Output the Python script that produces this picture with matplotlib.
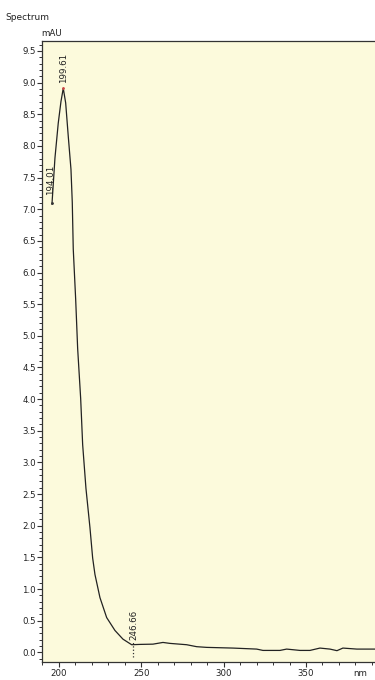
import matplotlib
matplotlib.use("Agg")
import matplotlib.pyplot as plt
from matplotlib.ticker import MultipleLocator

# Spectrum data (wavelength nm, absorbance mAU)
wavelength = [195.75, 197.57, 199.57, 201.21, 202.61, 204.07, 205.65, 207.29, 208.08,
              208.68, 210.14, 211.35, 213.18, 214.39, 216.39, 218.82, 220.46, 221.86,
              224.89, 228.96, 234.0, 238.86, 244.14, 249.18, 257.07, 263.14, 267.40,
              277.53, 283.61, 289.68, 305.65, 320.04, 323.86, 334.18, 338.25, 346.33,
              352.4, 358.47, 364.54, 368.8, 372.4, 380.9, 391.9]
absorbance = [7.08, 7.81, 8.36, 8.70, 8.91, 8.68, 8.15, 7.63, 7.11,
              6.37, 5.58, 4.80, 4.01, 3.28, 2.59, 1.97, 1.49, 1.23,
              0.865, 0.55, 0.346, 0.209, 0.121, 0.126, 0.130, 0.157, 0.142,
              0.121, 0.090, 0.079, 0.068, 0.052, 0.031, 0.031, 0.052, 0.031,
              0.031, 0.068, 0.052, 0.027, 0.068, 0.052, 0.052]

peak_labels = ["194.01", "199.61", "246.66"]
peak_x = [195.75, 202.61, 245.2]
peak_y = [7.08, 8.91, 0.12]

x_ticks = [200, 250, 300, 350]
y_ticks = [0.0, 0.5, 1.0, 1.5, 2.0, 2.5, 3.0, 3.5, 4.0, 4.5, 5.0, 5.5, 6.0, 6.5,
           7.0, 7.5, 8.0, 8.5, 9.0, 9.5]

fig = plt.figure(figsize=(3.75, 6.8), dpi=100)
fig.patch.set_facecolor("white")
ax = fig.add_axes([0.112, 0.026, 0.888, 0.914])
ax.set_facecolor("#fcfadc")

ax.plot(wavelength, absorbance, color="#222222", lw=0.9)

ax.set_xlim(189.7, 391.9)
ax.set_ylim(-0.157, 9.66)
ax.set_xticks(x_ticks)
ax.set_yticks(y_ticks)
ax.set_yticklabels([f"{v:.1f}" for v in y_ticks])
ax.xaxis.set_minor_locator(MultipleLocator(10))
ax.yaxis.set_minor_locator(MultipleLocator(0.1))
ax.tick_params(axis="both", which="major", labelsize=6.2, length=3.5, width=0.8,
               color="#333333", pad=1, labelcolor="#222222")
ax.tick_params(axis="both", which="minor", length=2, width=0.7, color="#333333")
for s in ["left", "bottom", "top"]:
    ax.spines[s].set_color("#333333")
    ax.spines[s].set_linewidth(0.9)
ax.spines["right"].set_visible(False)

# peak annotations
ax.plot([peak_x[0]], [peak_y[0] + 0.02], marker=".", ms=2, color="#333333")
ax.text(peak_x[0] - 0.6, peak_y[0] + 0.15, peak_labels[0], rotation=90,
        fontsize=6.3, ha="center", va="bottom", color="#222222")
ax.plot([peak_x[1]], [peak_y[1]], marker=".", ms=2, color="#cc4444")
ax.text(peak_x[1] + 0.2, peak_y[1] + 0.08, peak_labels[1], rotation=90,
        fontsize=6.3, ha="center", va="bottom", color="#222222")
ax.plot([peak_x[2], peak_x[2]], [-0.08, 0.18], ls=":", lw=0.9, color="#333333")
ax.text(peak_x[2] + 0.5, 0.2, peak_labels[2], rotation=90,
        fontsize=6.3, ha="center", va="bottom", color="#222222")

fig.text(5 / 375, 1 - 17 / 680, "Spectrum", fontsize=6.5, ha="left", va="center",
         color="#222222")
fig.text(52 / 375, 1 - 33 / 680, "mAU", fontsize=6.3, ha="center", va="center",
         color="#222222")
fig.text(360 / 375, 1 - 673 / 680, "nm", fontsize=6.2, ha="center", va="center",
         color="#222222")

fig.savefig("out.png", dpi=100)
